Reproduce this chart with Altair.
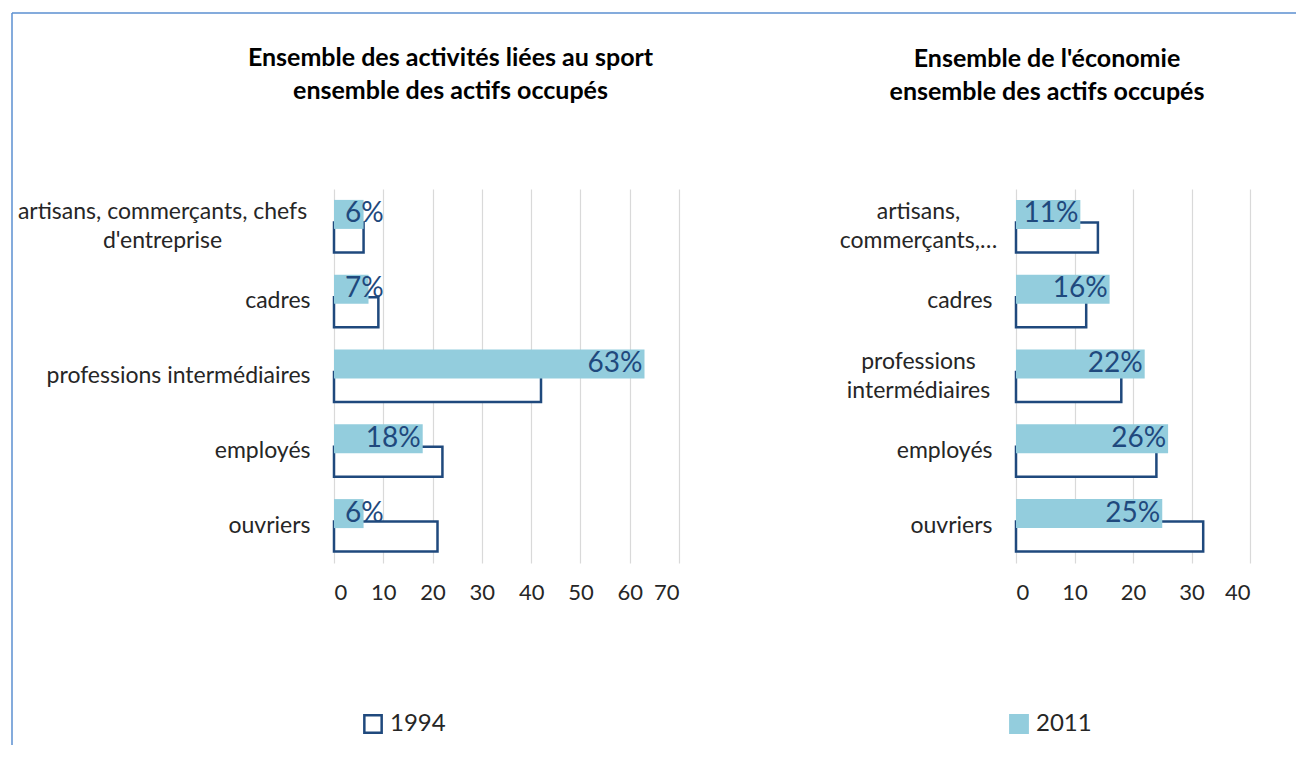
import altair as alt
import pandas as pd

# ---------------- data ----------------
years = ["1994", "2011"]

labels_left = [
    "artisans, commerçants, chefs|d'entreprise",
    "cadres",
    "professions intermédiaires",
    "employés",
    "ouvriers",
]
labels_right = [
    "artisans,|commerçants,…",
    "cadres",
    "professions|intermédiaires",
    "employés",
    "ouvriers",
]

sport_1994 = [6, 9, 42, 22, 21]
sport_2011 = [6, 7, 63, 18, 6]
eco_1994 = [14, 12, 18, 24, 32]
eco_2011 = [11, 16, 22, 26, 25]

ticks_left = [0, 10, 20, 30, 40, 50, 60, 70]
ticks_right = [0, 10, 20, 30, 40]

title_left = ["Ensemble des  activités liées au sport", "ensemble des actifs occupés"]
title_right = ["Ensemble de l'économie", "ensemble des actifs occupés"]

# ---------------- styles ----------------
DARK = "#1F497D"
LIGHT = "#93CDDD"
FONT = "Lato"

MULTI = "indexof(datum.label, '|') >= 0"


def block_padding(labels):
    # multi-line labels are centred: pad = gap + half of the widest line (approx. char width)
    longest = max(
        (max(len(p) for p in lab.split("|")) for lab in labels if "|" in lab), default=0
    )
    return round(24 + 5.3 * longest)


def panel(labels, v94, v11, ticks, title, width, title_dx, title_offset,
          legend_year, legend_x, frame=False):
    df = pd.DataFrame(
        {
            "cat": labels + labels,
            "year": [years[0]] * len(labels) + [years[1]] * len(labels),
            "value": v94 + v11,
        }
    )
    base = alt.Chart(df)
    legend = alt.Legend(
        title=None,
        values=[legend_year],
        orient="none",
        legendX=legend_x,
        legendY=523,
        direction="horizontal",
        symbolType="square",
        symbolSize=300,
        symbolStrokeWidth=2.5,
        labelFont=FONT,
        labelFontSize=24,
        labelColor="#262626",
        labelOffset=5,
    )
    y = alt.Y(
        "cat:N",
        sort=labels,
        title=None,
        scale=alt.Scale(paddingInner=0, paddingOuter=0),
        axis=alt.Axis(
            labelExpr="split(datum.label, '|')",
            labelAlign={"condition": {"test": MULTI, "value": "center"}, "value": "right"},
            labelPadding={"condition": {"test": MULTI, "value": block_padding(labels)}, "value": 24},
            labelOffset={"condition": {"test": MULTI, "value": -14}, "value": 0},
        ),
    )
    x = alt.X(
        "value:Q",
        title=None,
        scale=alt.Scale(domain=[ticks[0], ticks[-1]], nice=False),
        axis=alt.Axis(values=ticks, grid=True),
    )
    fill = alt.Fill(
        "year:N", scale=alt.Scale(domain=years, range=["#FFFFFF", LIGHT]), legend=legend
    )
    stroke = alt.Stroke(
        "year:N", scale=alt.Scale(domain=years, range=[DARK, LIGHT]), legend=legend
    )
    b94 = (
        base.transform_filter("datum.year == '1994'")
        .mark_bar(size=30, yOffset=11, strokeWidth=2.5)
        .encode(x=x, y=y, fill=fill, stroke=stroke)
    )
    b11 = (
        base.transform_filter("datum.year == '2011'")
        .mark_bar(size=29, yOffset=-12, strokeWidth=0)
        .encode(x=x, y=y, fill=fill, stroke=stroke)
    )
    txt = (
        base.transform_filter("datum.year == '2011'")
        .transform_calculate(lx="max(datum.value, 10.5)", lab="datum.value + '%'")
        .mark_text(
            align="right",
            baseline="middle",
            dx=-2,
            dy=-12,
            font=FONT,
            fontSize=28,
            color=DARK,
        )
        .encode(x=alt.X("lx:Q"), y=alt.Y("cat:N", sort=labels), text="lab:N")
    )
    layers = []
    if frame:
        fr = alt.Chart(pd.DataFrame({"f": [0]})).mark_rule(color="#5B8FD0", strokeWidth=1.5)
        layers.append(fr.encode(x=alt.value(-322), y=alt.value(-176), y2=alt.value(556)))
        layers.append(fr.encode(x=alt.value(-322), x2=alt.value(962), y=alt.value(-176)))
    layers += [b94, b11, txt]
    return alt.layer(*layers).properties(
        width=width,
        height=374,
        title=alt.TitleParams(
            text=title, dx=title_dx, offset=title_offset, anchor="middle", frame="group"
        ),
    )


left = panel(labels_left, sport_1994, sport_2011, ticks_left, title_left, 345, -56, -92,
             "1994", 27, frame=True)
right = panel(labels_right, eco_1994, eco_2011, ticks_right, title_right, 234, -86, 84,
              "2011", -9)

chart = (
    alt.hconcat(left, right, spacing=337, bounds="flush")
    .resolve_scale(x="independent", y="independent", fill="independent", stroke="independent")
    .resolve_legend(fill="independent", stroke="independent")
    .properties(padding={"left": 3, "top": 4, "right": 0, "bottom": 0})
    .configure_view(strokeOpacity=0)
    .configure_axis(
        labelFont=FONT,
        domain=False,
        ticks=False,
        gridColor="#D9D9D9",
        gridWidth=1.2,
    )
    .configure_axisX(labelFontSize=22, labelColor="#262626", labelPadding=19)
    .configure_axisY(
        labelFontSize=23,
        labelColor="#262626",
        labelLineHeight=29,
        labelLimit=400,
        grid=False,
    )
    .configure_title(
        font=FONT, fontSize=25, fontWeight="bold", color="#000000", lineHeight=33
    )
)

chart.save("out.html", embed_options={"renderer": "svg", "actions": False})
